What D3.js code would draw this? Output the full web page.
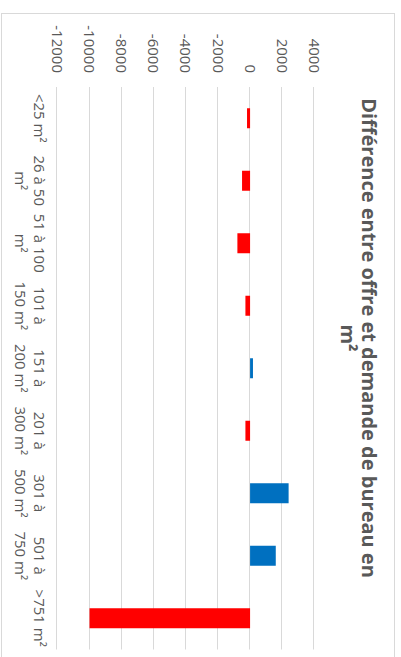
<!DOCTYPE html>
<html>
<head>
<meta charset="utf-8">
<script src="https://cdn.jsdelivr.net/npm/d3@7"></script>
<style>
  html, body { margin: 0; padding: 0; background: #fff; }
  svg { display: block; }
  text { font-family: "Open Sans", sans-serif; fill: #595959; }
</style>
</head>
<body>
<svg id="chart" width="401" height="657"></svg>
<script>
// ---- data ----
const categories = ["<25 m²", "26 à 50 m²", "51 à 100 m²", "101 à 150 m²", "151 à 200 m²",
                    "201 à 300 m²", "301 à 500 m²", "501 à 750 m²", ">751 m²"];
const categoryLines = [["<25 m²"], ["26 à 50", "m²"], ["51 à 100", "m²"], ["101 à", "150 m²"],
                       ["151 à", "200 m²"], ["201 à", "300 m²"], ["301 à", "500 m²"],
                       ["501 à", "750 m²"], [">751 m²"]];
const values = [-190, -500, -790, -290, 180, -290, 2400, 1600, -10000];
const tickValues = [-12000, -10000, -8000, -6000, -4000, -2000, 0, 2000, 4000];
const titleLines = ["Différence entre offre et demande de bureau en", "m²"];

// ---- layout (unrotated chart frame: 657 wide, 401 tall) ----
const svg = d3.select("#chart");
const g = svg.append("g").attr("transform", "translate(401,0) rotate(90)");

// chart border
g.append("rect")
  .attr("x", 13.5).attr("y", 6.5)
  .attr("width", 650).attr("height", 393)
  .attr("fill", "#fff").attr("stroke", "#D9D9D9").attr("stroke-width", 1);

const x = d3.scaleBand().domain(categories).range([87, 649.5])
  .paddingInner(0.68).paddingOuter(0.34);
const y = d3.scaleLinear().domain([-12000, 4000]).range([343.6, 86.7]);

// gridlines
g.append("g").selectAll("line").data(tickValues).join("line")
  .attr("x1", 87).attr("x2", 649.5)
  .attr("y1", d => Math.round(y(d)) + 0.5).attr("y2", d => Math.round(y(d)) + 0.5)
  .attr("stroke", "#D9D9D9").attr("stroke-width", 1);

// value tick labels
g.append("g").selectAll("text").data(tickValues).join("text")
  .attr("x", 73).attr("y", d => y(d)).attr("dy", "0.36em")
  .attr("text-anchor", "end").style("font-size", "15px")
  .text(d => d);

// bars
g.append("g").selectAll("rect").data(values).join("rect")
  .attr("x", (d, i) => x(categories[i]))
  .attr("width", x.bandwidth())
  .attr("y", d => y(Math.max(0, d)))
  .attr("height", d => Math.abs(y(d) - y(0)))
  .attr("fill", d => d < 0 ? "#FF0000" : "#0070C0");

// category labels
const cl = g.append("g").selectAll("text").data(categories).join("text")
  .attr("text-anchor", "middle").style("font-size", "15px")
  .attr("transform", d => `translate(${x(d) + x.bandwidth() / 2},366.7)`);
cl.selectAll("tspan").data((d, i) => categoryLines[i]).join("tspan")
  .attr("x", 0).attr("y", (d, j) => j * 19.3).text(d => d);

// title
g.append("g").selectAll("text").data(titleLines).join("text")
  .attr("x", 338).attr("y", (d, i) => 39 + i * 21)
  .attr("text-anchor", "middle")
  .style("font-size", "20px").style("font-weight", "bold")
  .text(d => d);
</script>
</body>
</html>
